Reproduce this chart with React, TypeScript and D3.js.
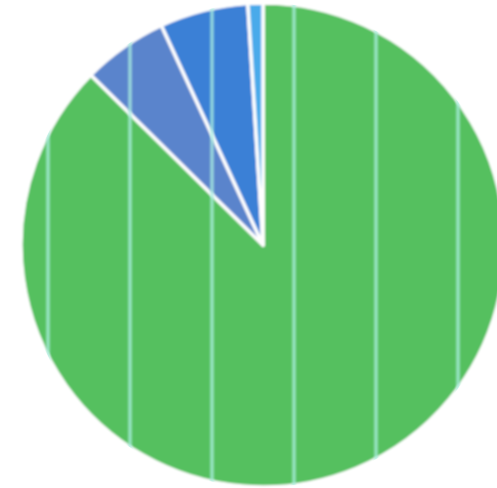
import React from "react";
import * as d3 from "d3";

const categories = ["A", "B", "C", "D"];
const values = [87.4, 5.7, 5.9, 1.0];
const colors = ["#54c05f", "#5a84cc", "#3b80d6", "#4aaaea"];

const W = 497;
const H = 488;
const cx = 263;
const cy = 245;
const R = 242;

export default function App() {
  const pie = d3.pie<number>().sort(null).value((d) => d);
  const arcs = pie(values);
  const arc = d3.arc<d3.PieArcDatum<number>>().innerRadius(0).outerRadius(R);
  const stripeXs = d3.range(48, W, 82);
  return (
    <svg
      width={W}
      height={H}
      style={{ position: "absolute", left: 0, top: 0, background: "#fff" }}
    >
      <defs>
        <clipPath id="pieclip">
          <circle cx={cx} cy={cy} r={R} />
        </clipPath>
        <filter id="soft" x="-5%" y="-5%" width="110%" height="110%">
          <feGaussianBlur stdDeviation="0.8" />
        </filter>
        <filter id="soft2" x="-50%" y="-5%" width="200%" height="110%">
          <feGaussianBlur stdDeviation="1.2" />
        </filter>
      </defs>
      <g transform={`translate(${cx},${cy})`} filter="url(#soft)">
        {arcs.map((a, i) => (
          <path
            key={categories[i]}
            d={arc(a) || ""}
            fill={colors[i]}
            stroke="#ffffff"
            strokeWidth={3.5}
            strokeLinejoin="round"
          />
        ))}
      </g>
      <g clipPath="url(#pieclip)">
        {stripeXs.map((x) => (
          <rect
            key={x}
            x={x - 2}
            y={0}
            width={4}
            height={H}
            fill="#aaeee0"
            opacity={0.7}
            filter="url(#soft2)"
          />
        ))}
      </g>
    </svg>
  );
}
